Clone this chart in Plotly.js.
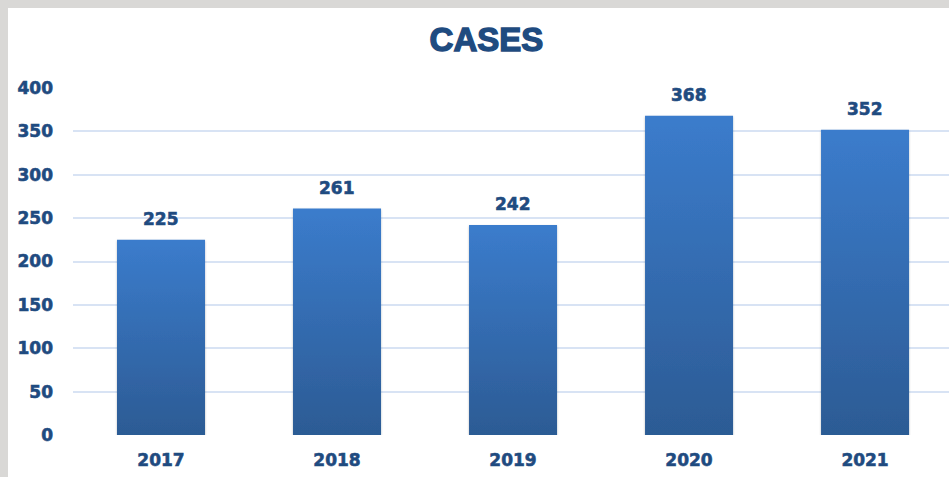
<!DOCTYPE html>
<html>
<head>
<meta charset="utf-8">
<script src="https://cdn.plot.ly/plotly-3.0.1.min.js"></script>
<style>
  html, body { margin: 0; padding: 0; background: #d9d8d6; width: 949px; height: 477px; overflow: hidden; }
  #chart { position: absolute; left: 8px; top: 8px; width: 941px; height: 469px; background: #fff; }
  #chart .gtitle { stroke: #1f4b80; stroke-width: 1.4px; paint-order: stroke; }
  #chart .xtick text, #chart .ytick text, #chart .annotation-text { stroke: #1f4b80; stroke-width: 0.6px; }
</style>
</head>
<body>
<div id="chart"></div>
<script>
const years = ['2017', '2018', '2019', '2020', '2021'];
const cases = [225, 261, 242, 368, 352];
const yTicks = [0, 50, 100, 150, 200, 250, 300, 350, 400];
const titleText = 'CASES';

const navy = '#1f4b80';
const tickFont = { family: 'DejaVu Sans, Verdana, sans-serif', size: 17, color: navy, weight: 'bold' };

const trace = {
  type: 'bar',
  x: years,
  y: cases,
  width: 0.5,
  marker: { color: '#3470b8', line: { width: 0 } },
  hoverinfo: 'skip'
};

const labels = years.map((yr, i) => ({
  x: i, y: cases[i], xref: 'x', yref: 'y',
  text: String(cases[i]), showarrow: false,
  xanchor: 'center', yanchor: 'middle', yshift: 21,
  font: Object.assign({}, tickFont)
}));

const layout = {
  width: 941,
  height: 469,
  margin: { l: 65, r: 0, t: 80, b: 42 },
  paper_bgcolor: '#ffffff',
  plot_bgcolor: '#ffffff',
  showlegend: false,
  title: {
    text: '<b>' + titleText + '</b>',
    font: { family: 'Liberation Sans, Arial, sans-serif', size: 33, color: navy },
    x: 0.472, xref: 'paper', xanchor: 'center',
    y: 0.932, yref: 'container', yanchor: 'middle'
  },
  annotations: labels,
  xaxis: {
    type: 'category',
    range: [-0.5, 4.477],
    showgrid: false,
    zeroline: false,
    showline: false,
    tickfont: tickFont,
    ticks: '',
    ticklabelstandoff: 13
  },
  yaxis: {
    range: [0, 400],
    tickvals: yTicks,
    ticktext: yTicks.map(String),
    showgrid: true,
    gridcolor: '#d8e3f4',
    gridwidth: 2,
    zeroline: false,
    showline: false,
    tickfont: tickFont,
    ticks: '',
    ticklabelstandoff: 19
  },
  bargap: 0.5
};

const gd = document.getElementById('chart');
Plotly.newPlot(gd, [trace], layout, { displayModeBar: false, staticPlot: true }).then(applyGradient);

function applyGradient() {
  const svg = gd.querySelector('svg.main-svg');
  const ns = 'http://www.w3.org/2000/svg';
  let defs = svg.querySelector('defs');
  if (!defs) { defs = document.createElementNS(ns, 'defs'); svg.insertBefore(defs, svg.firstChild); }
  const grad = document.createElementNS(ns, 'linearGradient');
  grad.setAttribute('id', 'barGrad');
  grad.setAttribute('x1', '0'); grad.setAttribute('y1', '0');
  grad.setAttribute('x2', '0'); grad.setAttribute('y2', '1');
  [['0%', '#3b7ccc'], ['100%', '#2c5b94']].forEach(([o, c]) => {
    const s = document.createElementNS(ns, 'stop');
    s.setAttribute('offset', o); s.setAttribute('stop-color', c);
    grad.appendChild(s);
  });
  defs.appendChild(grad);
  const filt = document.createElementNS(ns, 'filter');
  filt.setAttribute('id', 'barShadow');
  filt.setAttribute('x', '-10%'); filt.setAttribute('y', '-10%');
  filt.setAttribute('width', '120%'); filt.setAttribute('height', '120%');
  const ds = document.createElementNS(ns, 'feDropShadow');
  ds.setAttribute('dx', '0'); ds.setAttribute('dy', '1');
  ds.setAttribute('stdDeviation', '1.2'); ds.setAttribute('flood-color', '#000'); ds.setAttribute('flood-opacity', '0.25');
  filt.appendChild(ds);
  defs.appendChild(filt);
  gd.querySelectorAll('.bars .point path').forEach(p => {
    p.style.fill = 'url(#barGrad)';
    p.setAttribute('filter', 'url(#barShadow)');
  });
}
</script>
</body>
</html>
